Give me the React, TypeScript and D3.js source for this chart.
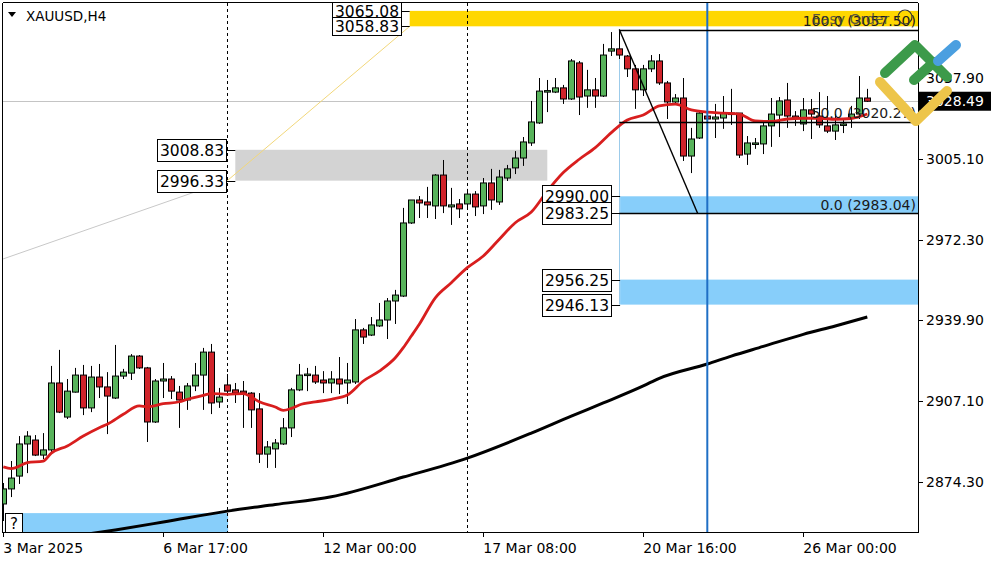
import React from "react";
import * as d3 from "d3";

// ---- data ----
const openP = [2865.4, 2871.5, 2876.7, 2889.7, 2891.3, 2885.2, 2887.3, 2914.4, 2900.6, 2910.7,
  2917.6, 2904.3, 2916.8, 2912.8, 2908.3, 2917.2, 2918.4, 2925.3, 2920.5, 2898.6,
  2915.2, 2916.0, 2910.7, 2907.5, 2913.2, 2917.6, 2926.9, 2906.7, 2913.6, 2911.6,
  2911.1, 2910.3, 2903.9, 2885.6, 2887.7, 2889.7, 2896.2, 2911.6, 2917.6, 2917.6,
  2915.6, 2914.4, 2916.0, 2914.4, 2914.8, 2935.9, 2933.8, 2937.5, 2939.9, 2947.6,
  2949.6, 2979.2, 2988.5, 2987.7, 2986.1, 2998.6, 2985.7, 2986.9, 2986.9, 2990.9,
  2986.1, 2995.4, 2987.7, 2997.4, 3001.5, 3005.5, 3011.6, 3019.7, 3032.6, 3032.2,
  3033.9, 3029.4, 3044.0, 3030.6, 3033.1, 3030.6, 3048.8, 3049.7, 3046.8, 3041.6,
  3033.1, 3041.6, 3044.8, 3035.9, 3028.2, 3029.8, 3006.3, 3013.6, 3022.5, 3021.3,
  3021.7, 3023.3, 3023.7, 3007.1, 3011.2, 3011.2, 3018.5, 3022.9, 3029.0, 3022.5,
  3019.3, 3025.0, 3022.5, 3018.5, 3016.4, 3018.9, 3021.7, 3023.3, 3029.8];
const closeP = [2871.5, 2875.9, 2889.7, 2892.9, 2885.2, 2887.3, 2914.4, 2902.6, 2911.1, 2917.6,
  2904.3, 2916.8, 2912.8, 2909.1, 2917.2, 2918.8, 2925.3, 2920.5, 2898.6, 2915.2,
  2916.0, 2911.1, 2907.5, 2913.2, 2917.6, 2926.9, 2906.3, 2908.7, 2911.1, 2910.3,
  2910.3, 2903.5, 2885.6, 2888.5, 2890.1, 2896.2, 2911.6, 2917.6, 2918.0, 2914.8,
  2914.4, 2916.0, 2914.0, 2915.6, 2935.9, 2933.0, 2937.9, 2939.9, 2947.6, 2950.0,
  2979.2, 2988.5, 2987.3, 2986.5, 2998.6, 2986.1, 2986.5, 2984.9, 2990.9, 2985.7,
  2995.4, 2988.5, 2997.8, 3001.1, 3005.5, 3012.0, 3020.1, 3032.6, 3032.8, 3033.9,
  3029.4, 3044.8, 3030.2, 3033.1, 3030.6, 3047.2, 3049.7, 3047.2, 3041.6, 3033.1,
  3041.6, 3044.8, 3035.9, 3028.2, 3029.8, 3006.3, 3013.2, 3023.7, 3021.3, 3022.1,
  3023.7, 3023.7, 3006.7, 3011.6, 3011.6, 3018.5, 3023.3, 3028.6, 3022.5, 3021.7,
  3025.0, 3023.3, 3018.9, 3016.4, 3018.9, 3019.3, 3023.3, 3029.8, 3028.49];
const highP = [2873.9, 2882.8, 2892.9, 2894.9, 2893.3, 2894.1, 2921.3, 2927.8, 2916.0, 2920.5,
  2921.7, 2921.3, 2922.1, 2918.8, 2929.8, 2920.1, 2926.1, 2925.7, 2920.9, 2916.0,
  2922.5, 2917.2, 2913.2, 2914.4, 2922.5, 2928.6, 2930.2, 2912.4, 2918.0, 2914.4,
  2915.2, 2910.7, 2910.3, 2890.9, 2891.7, 2900.2, 2912.4, 2922.1, 2920.5, 2921.3,
  2919.2, 2919.2, 2924.9, 2922.5, 2940.3, 2936.7, 2941.1, 2946.8, 2948.8, 2952.1,
  2985.3, 2988.5, 2990.1, 2993.8, 2999.0, 3004.7, 2993.4, 2988.9, 2993.0, 2992.1,
  2997.4, 3001.1, 3000.7, 3002.7, 3008.3, 3014.0, 3028.6, 3037.9, 3037.1, 3037.9,
  3035.1, 3045.6, 3044.8, 3041.2, 3037.9, 3051.7, 3056.5, 3057.5, 3047.2, 3043.2,
  3043.2, 3047.2, 3047.6, 3036.7, 3031.4, 3037.9, 3017.7, 3024.5, 3028.6, 3027.4,
  3030.6, 3033.5, 3023.7, 3014.4, 3013.6, 3019.7, 3029.8, 3030.2, 3035.9, 3024.5,
  3029.8, 3029.4, 3032.2, 3030.6, 3023.3, 3021.3, 3026.6, 3038.7, 3033.5];
const lowP = [2858.5, 2868.2, 2873.5, 2877.9, 2884.8, 2883.6, 2886.0, 2902.2, 2899.8, 2910.5,
  2901.4, 2902.6, 2908.3, 2893.7, 2907.9, 2916.0, 2915.6, 2920.1, 2890.5, 2898.2,
  2908.3, 2907.9, 2896.2, 2903.5, 2911.1, 2903.5, 2901.8, 2904.3, 2909.9, 2906.3,
  2896.2, 2896.2, 2882.0, 2880.0, 2880.0, 2889.3, 2892.5, 2911.1, 2911.1, 2914.0,
  2910.3, 2910.3, 2909.9, 2905.9, 2914.0, 2930.2, 2933.4, 2937.1, 2932.2, 2938.3,
  2949.2, 2978.8, 2981.2, 2981.2, 2980.8, 2983.2, 2978.4, 2981.2, 2984.9, 2982.0,
  2982.8, 2984.5, 2986.5, 2996.2, 2999.0, 3002.3, 3010.4, 3019.3, 3024.1, 3031.8,
  3027.4, 3029.0, 3022.9, 3025.8, 3025.8, 3030.2, 3046.8, 3045.6, 3038.3, 3025.4,
  3030.6, 3040.3, 3035.1, 3021.3, 3027.8, 3004.3, 2999.4, 3013.2, 3017.3, 3013.6,
  3017.3, 3018.9, 3005.5, 3002.7, 3009.2, 3007.1, 3010.0, 3014.0, 3017.7, 3018.5,
  3016.4, 3013.2, 3017.7, 3015.6, 3012.8, 3015.6, 3017.7, 3021.3, 3028.2];

const maFastIdx = [0, 1, 3, 5, 6, 8, 10, 12, 13, 15, 17, 18, 20, 22, 23, 25, 26, 28, 30, 31,
  32, 34, 35, 36, 37, 39, 41, 43, 45, 47, 49, 50, 51, 52, 54, 56, 58, 60, 62, 64,
  66, 68, 70, 72, 74, 76, 78, 80, 82, 84, 86, 88, 90, 92, 94, 96, 98, 100, 102, 104, 106, 108];
const maFastVal = [2880.4, 2879.7, 2882.1, 2882.8, 2886.0, 2888.9, 2892.9, 2896.3, 2897.7, 2901.7,
  2905.1, 2904.8, 2906.0, 2906.8, 2907.8, 2909.4, 2910.1, 2909.8, 2910.1, 2908.7,
  2906.8, 2904.7, 2903.3, 2904.1, 2905.5, 2906.7, 2907.8, 2909.5, 2915.2, 2919.2,
  2924.6, 2928.7, 2933.4, 2938.2, 2948.9, 2955.0, 2961.1, 2965.8, 2972.6, 2979.3,
  2983.6, 2992.1, 2999.6, 3005.0, 3009.7, 3015.8, 3020.9, 3022.9, 3026.6, 3027.3,
  3025.0, 3024.1, 3023.7, 3023.3, 3020.5, 3020.3, 3021.3, 3021.6, 3021.6, 3021.2, 3021.5, 3023.3];

const maSlowIdx = [8, 14, 20, 28, 34, 41, 50, 58, 66, 71, 75, 80, 82, 88, 91, 95, 100, 104, 108];
const maSlowVal = [2852.0, 2854.9, 2858.1, 2862.5, 2865.2, 2868.3, 2876.3, 2884.0, 2894.1, 2901.0,
  2906.3, 2913.2, 2916.3, 2922.1, 2925.3, 2929.2, 2934.1, 2937.5, 2941.1];

const priceTicks = [3037.9, 3005.1, 2972.3, 2939.9, 2907.1, 2874.3];
const timeLabels = ["3 Mar 2025", "6 Mar 17:00", "12 Mar 00:00", "17 Mar 08:00", "20 Mar 16:00", "26 Mar 00:00"];
const timeIdx = [0, 20, 40, 60, 80, 100];

const levelLabels = [3065.08, 3058.83, 3008.83, 2996.33, 2990.0, 2983.25, 2956.25, 2946.13];
const levelAnchorIdx = [50.8, 50.8, 29.0, 29.0, 77.1, 77.1, 77.1, 77.1];

const fibLevels = [3057.5, 3020.27, 2983.04];
const fibNames = ["100.0", "50.0", "0.0"];
const lastPrice = 3028.49;

export default function App() {
  const L = 3, R = 918, T = 3, B = 532;
  const x = d3.scaleLinear().domain([0, 114.3375]).range([3.3, 918]);
  const y = d3.scaleLinear().domain([2874.3, 3037.9]).range([482, 78]);
  const font = "'DejaVu Sans', Verdana, sans-serif";

  const fastLine = d3.line<number>().x((d, i) => x(maFastIdx[i])).y(d => y(d)).curve(d3.curveMonotoneX);
  const slowLine = d3.line<number>().x((d, i) => x(maSlowIdx[i])).y(d => y(d)).curve(d3.curveMonotoneX);

  const band = (i0: number, i1: number | null, p0: number, p1: number, fill: string, key: string) => {
    const x0 = x(i0), x1 = i1 === null ? R : x(i1);
    const ya = y(Math.max(p0, p1)), yb = y(Math.min(p0, p1));
    return <rect key={key} x={x0} y={ya} width={x1 - x0} height={yb - ya} fill={fill} />;
  };

  const fibX0 = x(77);
  const fibEndIdx = 86.8;

  return (
    <svg width={1000} height={562} style={{ position: "absolute", left: 0, top: 0, background: "#fff" }}
      fontFamily={font}>
      <defs>
        <clipPath id="plot"><rect x={L} y={T} width={R - L} height={B - T} /></clipPath>
      </defs>
      <rect x={0} y={0} width={1000} height={562} fill="#fff" />
      <g clipPath="url(#plot)">
        {band(50.8, null, 3058.83, 3065.08, "#FFD700", "yb")}
        {band(29.0, 68.0, 2996.33, 3008.83, "#D3D3D3", "gb")}
        {band(77.1, null, 2983.25, 2990.0, "#87CEFA", "bb1")}
        {band(77.1, null, 2946.13, 2956.25, "#87CEFA", "bb2")}
        {band(0.2, 28.1, 2850.0, 2861.7, "#87CEFA", "bb3")}
        <line x1={L} x2={R} y1={Math.round(y(lastPrice)) + 0.5} y2={Math.round(y(lastPrice)) + 0.5} stroke="#C4C4C4" strokeWidth={1} />
        {[28, 58].map(i => (
          <line key={"d" + i} x1={Math.round(x(i)) + 0.5} x2={Math.round(x(i)) + 0.5} y1={T} y2={B}
            stroke="#000" strokeWidth={1} strokeDasharray="3,3" />
        ))}
        <line x1={x(-0.4)} y1={y(2964.2)} x2={x(28)} y2={y(2996.33)} stroke="#C8C8C8" strokeWidth={1} />
        <line x1={x(28)} y1={y(2996.33)} x2={x(50.8)} y2={y(3058.83)} stroke="#F2D77A" strokeWidth={1} />
        <line x1={Math.round(fibX0) + 0.5} x2={Math.round(fibX0) + 0.5} y1={y(3057.5)} y2={y(2946.13)} stroke="#9CCBEA" strokeWidth={1} />
        <path d={slowLine(maSlowVal) || ""} fill="none" stroke="#000" strokeWidth={3} />
        {openP.map((o, i) => {
          const c = closeP[i];
          const cx = Math.round(x(i)) + 0.5;
          const yo = y(o), yc = y(c);
          const top = Math.min(yo, yc), h = Math.max(Math.abs(yo - yc), 1.5);
          const up = c >= o;
          return (
            <g key={"c" + i}>
              <line x1={cx} x2={cx} y1={y(highP[i])} y2={y(lowP[i])} stroke="#000" strokeWidth={1} />
              <rect x={cx - 3} y={top} width={6} height={h} fill={up ? "#58B35B" : "#D0232A"} stroke="#000" strokeWidth={1} />
            </g>
          );
        })}
        <path d={fastLine(maFastVal) || ""} fill="none" stroke="#D81E1E" strokeWidth={2.8} />
        <line x1={x(88)} x2={x(88)} y1={T} y2={B} stroke="#1F6FC5" strokeWidth={2} />
        {fibLevels.map((p, k) => (
          <line key={"f" + k} x1={fibX0} x2={R} y1={Math.round(y(p)) + 0.5} y2={Math.round(y(p)) + 0.5} stroke="#000" strokeWidth={1.6} />
        ))}
        <line x1={fibX0} y1={y(3057.5)} x2={x(fibEndIdx)} y2={y(2983.04)} stroke="#000" strokeWidth={1.4} />
        {fibLevels.map((p, k) => (
          <text key={"ft" + k} x={916} y={y(p) - 3.5} fontSize={14} textAnchor="end" fill="#1a1a1a">
            {fibNames[k] + " (" + p.toFixed(2) + ")"}
          </text>
        ))}
        <text x={812} y={24} fontSize={14} fill="#444" opacity={0.85}>Easy Order</text>
        <circle cx={905} cy={17} r={7} fill="none" stroke="#333" strokeWidth={1.2} />
        <rect x={5.5} y={513.5} width={17} height={19} fill="#fff" stroke="#000" strokeWidth={1} />
        <text x={14} y={529} fontSize={15} textAnchor="middle" fill="#000">?</text>
      </g>
      {levelLabels.map((p, k) => {
        const ax = x(levelAnchorIdx[k]);
        const right = Math.round(ax - 9) + 0.5;
        const cy = y(p);
        const h = k < 2 ? 18 : 22;
        return (
          <g key={"ll" + k}>
            <line x1={right} x2={ax} y1={Math.round(cy) + 0.5} y2={Math.round(cy) + 0.5} stroke="#000" strokeWidth={1} />
            <rect x={right - 69} y={Math.round(cy - h / 2) + 0.5} width={69} height={h} fill="#fff" stroke="#000" strokeWidth={1} />
            <text x={right - 34.5} y={cy + 6} fontSize={15.5} textAnchor="middle" fill="#000">{p.toFixed(2)}</text>
          </g>
        );
      })}
      <line x1={L - 0.5} x2={L - 0.5} y1={T} y2={B} stroke="#000" />
      <line x1={L} x2={R} y1={T - 0.5} y2={T - 0.5} stroke="#000" />
      <line x1={R + 0.5} x2={R + 0.5} y1={T} y2={B + 1} stroke="#000" />
      <line x1={L - 1} x2={R + 1} y1={B + 0.5} y2={B + 0.5} stroke="#000" />
      <path d="M8,12 L16,12 L12,17 Z" fill="#000" />
      <text x={26} y={21} fontSize={13.5} fill="#000">XAUUSD,H4</text>
      {priceTicks.map((p, k) => (
        <g key={"pt" + k}>
          <line x1={R} x2={R + 5} y1={Math.round(y(p)) + 0.5} y2={Math.round(y(p)) + 0.5} stroke="#000" />
          <text x={926} y={y(p) + 5} fontSize={14} fill="#000">{p.toFixed(2)}</text>
        </g>
      ))}
      <rect x={919} y={y(lastPrice) - 9.5} width={72} height={19} fill="#000" />
      <text x={926} y={y(lastPrice) + 5} fontSize={14} fill="#fff">{lastPrice.toFixed(2)}</text>
      {timeLabels.map((t, k) => (
        <g key={"tl" + k}>
          <line x1={Math.round(x(timeIdx[k])) + 0.5} x2={Math.round(x(timeIdx[k])) + 0.5} y1={B} y2={B + 5} stroke="#000" />
          <text x={x(timeIdx[k])} y={553} fontSize={14} fill="#000">{t}</text>
        </g>
      ))}
      <g fill="none" strokeWidth={10} strokeLinecap="round" strokeLinejoin="round">
        <path d="M880,82 L916,121 L947,91" stroke="#EDC54A" />
        <path d="M885,73 L915,45 L947,77" stroke="#3C9A4A" />
        <path d="M914,80 L934,62" stroke="#3C9A4A" />
        <path d="M938,61 L956,45" stroke="#4A9FE0" />
      </g>
    </svg>
  );
}
